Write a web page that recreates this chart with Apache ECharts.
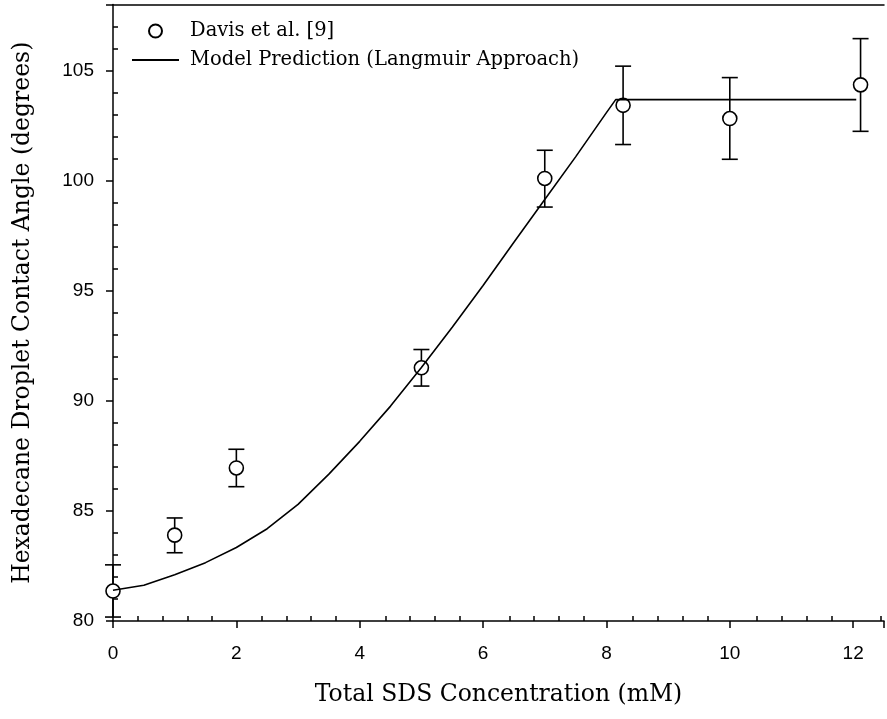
<!DOCTYPE html>
<html>
<head>
<meta charset="utf-8">
<script src="https://cdn.jsdelivr.net/npm/echarts@6/dist/echarts.min.js"></script>
<style>
  html, body { margin: 0; padding: 0; background: #fff; }
  #chart { width: 887px; height: 719px; }
</style>
</head>
<body>
<div id="chart"></div>
<script>
// Experimental data (Davis et al. [9])
const dataX    = [0, 1, 2, 5, 7, 8.27, 10, 12.12];
const dataY    = [81.36, 83.9, 86.95, 91.5, 100.1, 103.42, 102.82, 104.35];
const errLow   = [80.18, 83.1, 86.1, 90.67, 98.8, 101.64, 100.97, 102.24];
const errHigh  = [82.55, 84.68, 87.8, 92.33, 101.38, 105.2, 104.68, 106.45];

// Model prediction (Langmuir approach)
const modelX = [0, 0.5, 1, 1.5, 2, 2.5, 3, 3.5, 4, 4.5, 5, 5.5, 6, 6.5, 7, 7.5, 8, 8.15, 12.05];
const modelY = [81.4, 81.62, 82.1, 82.65, 83.34, 84.19, 85.3, 86.67, 88.16, 89.76, 91.51, 93.34, 95.24, 97.2, 99.14, 101.08, 103.09, 103.68, 103.68];

const xTicks = [0, 2, 4, 6, 8, 10, 12];
const yTicks = [80, 85, 90, 95, 100, 105];

const seriesNames = ['Davis et al. [9]', 'Model Prediction (Langmuir Approach)'];
const xTitle = 'Total SDS Concentration (mM)';
const yTitle = 'Hexadecane Droplet Contact Angle (degrees)';

const chart = echarts.init(document.getElementById('chart'), null, { renderer: 'canvas' });

const serif = 'DejaVu Serif';
const sans = 'Liberation Sans';
const gridBox = { left: 113, top: 4.5, width: 775, height: 616.5 };
const transparent = 'rgba(0,0,0,0)';

const option = {
  animation: false,
  backgroundColor: '#fff',
  grid: [
    Object.assign({ containLabel: false }, gridBox),
    Object.assign({ containLabel: false }, gridBox)
  ],
  legend: {
    orient: 'vertical',
    left: 126,
    top: 16,
    itemWidth: 47,
    itemHeight: 13,
    itemGap: 9,
    data: [
      { name: seriesNames[0] },
      { name: seriesNames[1], itemStyle: { color: transparent, borderColor: transparent, borderWidth: 0 } }
    ],
    textStyle: { fontFamily: serif, fontSize: 19.5, color: '#000', padding: [0, 0, 0, 6] }
  },
  xAxis: [
    {
      type: 'value', gridIndex: 0, position: 'bottom',
      min: 0, max: 12.5, interval: 2,
      name: xTitle, nameLocation: 'middle', nameGap: 62,
      nameTextStyle: { fontFamily: serif, fontSize: 23.5, color: '#000' },
      axisLine: { show: true, onZero: false, lineStyle: { color: '#000', width: 1.5 } },
      axisTick: { show: true, inside: false, length: 7, lineStyle: { color: '#000', width: 1.5 } },
      axisLabel: {
        fontFamily: sans, fontSize: 19, color: '#000', margin: 23,
        formatter: v => (xTicks.indexOf(v) >= 0 ? String(v) : '')
      },
      splitLine: { show: false }
    },
    {
      type: 'value', gridIndex: 0, position: 'top',
      min: 0, max: 12.5, interval: 2,
      axisLine: { show: true, onZero: false, lineStyle: { color: '#000', width: 1.5 } },
      axisTick: { show: false }, axisLabel: { show: false }, splitLine: { show: false }
    },
    {
      type: 'value', gridIndex: 1, position: 'bottom',
      min: 0, max: 12.5, interval: 2,
      axisLine: { show: false, onZero: false },
      axisTick: { show: false, inside: true },
      minorTick: { show: true, splitNumber: 5, length: 5, lineStyle: { color: '#000', width: 1.5 } },
      axisLabel: { show: false }, splitLine: { show: false }, minorSplitLine: { show: false }
    }
  ],
  yAxis: [
    {
      type: 'value', gridIndex: 0, position: 'left',
      min: 80, max: 108, interval: 5,
      name: yTitle, nameLocation: 'middle', nameGap: 78,
      nameTextStyle: { fontFamily: serif, fontSize: 23.5, color: '#000' },
      axisLine: { show: true, onZero: false, lineStyle: { color: '#000', width: 1.5 } },
      axisTick: { show: true, inside: false, length: 7, lineStyle: { color: '#000', width: 1.5 } },
      axisLabel: {
        fontFamily: sans, fontSize: 19, color: '#000', margin: 19,
        formatter: v => (yTicks.indexOf(v) >= 0 ? String(v) : '')
      },
      splitLine: { show: false }
    },
    {
      type: 'value', gridIndex: 1, position: 'left',
      min: 80, max: 108, interval: 5,
      axisLine: { show: false, onZero: false },
      axisTick: { show: false, inside: true },
      minorTick: { show: true, splitNumber: 5, length: 5, lineStyle: { color: '#000', width: 1.5 } },
      axisLabel: { show: false }, splitLine: { show: false }, minorSplitLine: { show: false }
    }
  ],
  series: [
    {
      name: 'errorbars',
      type: 'custom',
      xAxisIndex: 0, yAxisIndex: 0,
      z: 1,
      silent: true,
      data: dataX.map((x, i) => [x, errLow[i], errHigh[i]]),
      encode: { x: 0, y: [1, 2] },
      renderItem: function (params, api) {
        const lo = api.coord([api.value(0), api.value(1)]);
        const hi = api.coord([api.value(0), api.value(2)]);
        const hw = 8;
        const style = { stroke: '#000', lineWidth: 1.6, fill: null };
        return {
          type: 'group',
          children: [
            { type: 'line', shape: { x1: lo[0], y1: lo[1], x2: hi[0], y2: hi[1] }, style: style },
            { type: 'line', shape: { x1: lo[0] - hw, y1: lo[1], x2: lo[0] + hw, y2: lo[1] }, style: style },
            { type: 'line', shape: { x1: hi[0] - hw, y1: hi[1], x2: hi[0] + hw, y2: hi[1] }, style: style }
          ]
        };
      }
    },
    {
      name: seriesNames[0],
      type: 'scatter',
      xAxisIndex: 0, yAxisIndex: 0,
      z: 2,
      symbol: 'circle',
      symbolSize: 14,
      itemStyle: { color: '#fff', borderColor: '#000', borderWidth: 1.6, opacity: 1 },
      data: dataX.map((x, i) => [x, dataY[i]])
    },
    {
      name: seriesNames[1],
      type: 'line',
      xAxisIndex: 0, yAxisIndex: 0,
      z: 3,
      symbol: 'none',
      smooth: false,
      lineStyle: { color: '#000', width: 1.6 },
      itemStyle: { color: '#000' },
      data: modelX.map((x, i) => [x, modelY[i]])
    }
  ]
};

chart.setOption(option);
</script>
</body>
</html>
